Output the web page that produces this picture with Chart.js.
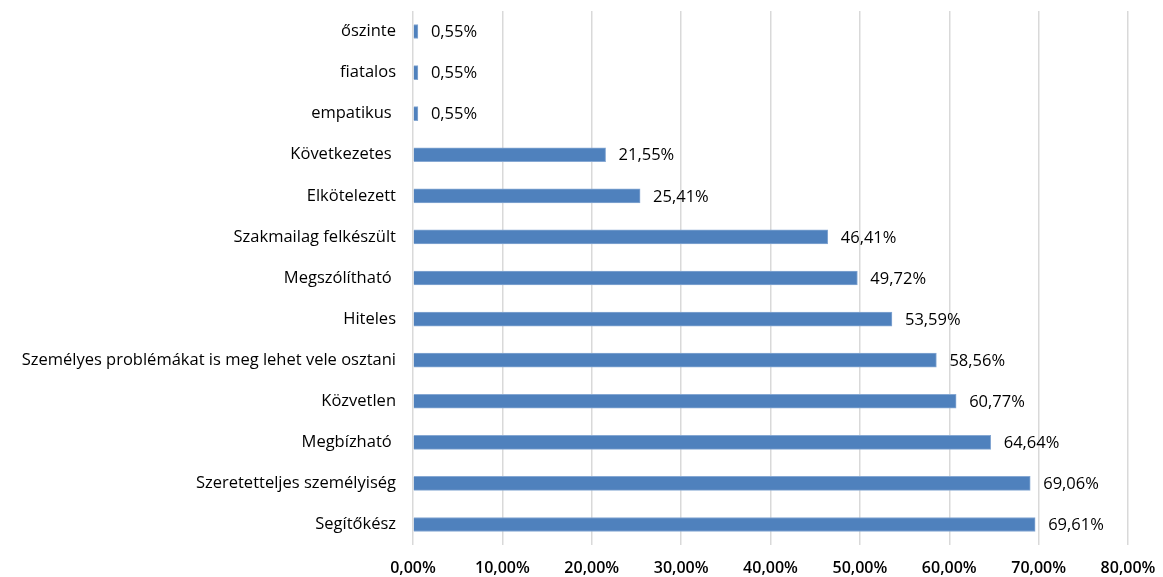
<!DOCTYPE html>
<html>
<head>
<meta charset="utf-8">
<script src="https://cdn.jsdelivr.net/npm/chart.js@4"></script>
<style>
  html, body { margin: 0; padding: 0; background: #fff; }
  #wrap { width: 1163px; height: 577px; }
</style>
</head>
<body>
<div id="wrap"><canvas id="myChart" width="1163" height="577"></canvas></div>
<script>
const categorias = [
    "őszinte", "fiatalos", "empatikus ", "Következetes ", "Elkötelezett",
    "Szakmailag felkészült", "Megszólítható ", "Hiteles",
    "Személyes problémákat is meg lehet vele osztani", "Közvetlen",
    "Megbízható ", "Szeretetteljes személyiség", "Segítőkész"
];
const valores = [0.55, 0.55, 0.55, 21.55, 25.41, 46.41, 49.72, 53.59, 58.56, 60.77, 64.64, 69.06, 69.61];
const ejeMax = 80;
const ejePaso = 10;

const fuente = "'Open Sans', Lato, sans-serif";

function formato(v) {
    return v.toFixed(2).replace(".", ",") + "%";
}

// etiquetas de datos a la derecha de cada barra
const etiquetas = {
    id: "etiquetas",
    afterDatasetsDraw(chart) {
        const ctx = chart.ctx;
        const meta = chart.getDatasetMeta(0);
        ctx.save();
        ctx.font = "16.5px " + fuente;
        ctx.fillStyle = "#000";
        ctx.textAlign = "left";
        ctx.textBaseline = "middle";
        meta.data.forEach((bar, i) => {
            ctx.fillText(formato(valores[i]), bar.x + 13, bar.y + 1);
        });
        ctx.restore();
    }
};

const config = {
    type: "bar",
    data: {
        labels: categorias,
        datasets: [{
            data: valores,
            backgroundColor: "#4F81BD",
            borderColor: "#86a8d3",
            borderWidth: 1,
            barThickness: 14
        }]
    },
    options: {
        indexAxis: "y",
        responsive: false,
        animation: false,
        layout: { padding: { left: 0, right: 35, top: 11, bottom: 0 } },
        plugins: {
            legend: { display: false },
            tooltip: { enabled: false }
        },
        scales: {
            x: {
                min: 0,
                max: ejeMax,
                ticks: {
                    stepSize: ejePaso,
                    padding: 14,
                    color: "#000",
                    font: { family: fuente, size: 16, weight: "600" },
                    maxRotation: 0,
                    callback: (v) => formato(v)
                },
                grid: { color: "#d9d9d9", lineWidth: 1.5, drawTicks: false },
                border: { display: false },
                afterFit: (scale) => {
                    scale.height = 32;
                    scale.paddingLeft = 0;
                    scale.paddingRight = 0;
                }
            },
            y: {
                ticks: {
                    padding: 9,
                    color: "#000",
                    font: { family: fuente, size: 16.5 }
                },
                grid: { display: false },
                border: { display: false },
                afterFit: (scale) => {
                    scale.width = 413;
                    scale.paddingTop = 0;
                    scale.paddingBottom = 0;
                }
            }
        }
    },
    plugins: [etiquetas]
};

new Chart(document.getElementById("myChart"), config);
</script>
</body>
</html>
